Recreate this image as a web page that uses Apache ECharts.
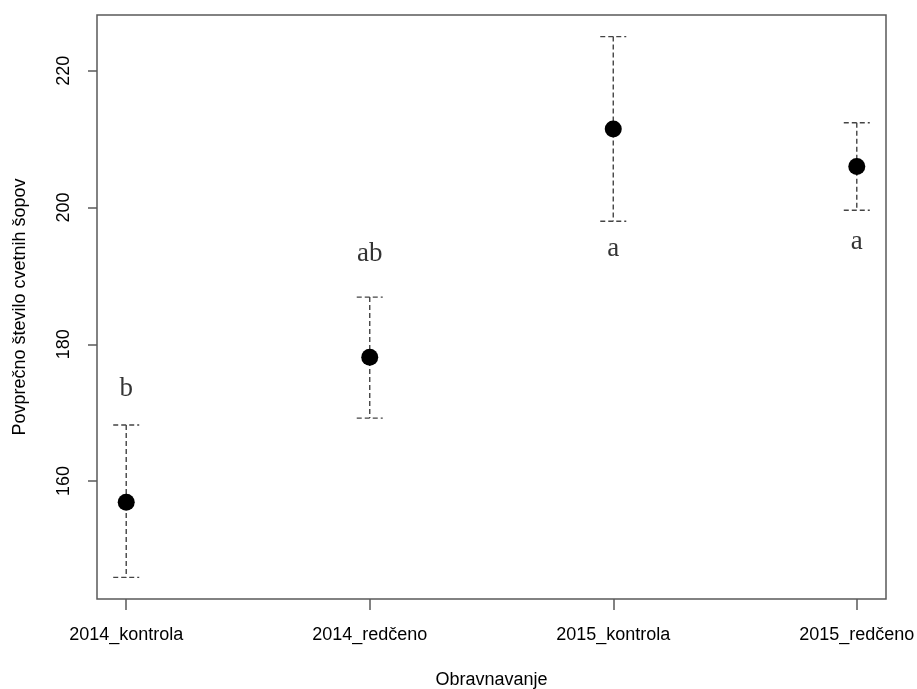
<!DOCTYPE html>
<html>
<head>
<meta charset="utf-8">
<script src="https://cdn.jsdelivr.net/npm/echarts@6/dist/echarts.min.js"></script>
<style>
html,body{margin:0;padding:0;background:#fff;}
#chart{width:917px;height:689px;}
</style>
</head>
<body>
<div id="chart"></div>
<script>
const categories = ['2014_kontrola', '2014_redčeno', '2015_kontrola', '2015_redčeno'];
const means = [156.9, 178.1, 211.5, 206.0];
const lower = [145.9, 169.2, 198.0, 199.6];
const upper = [168.2, 186.9, 225.0, 212.4];
const groupLetters = ['b', 'ab', 'a', 'a'];
const letterY = [173.45, 193.2, 194.0, 195.0];
const yTicks = [160, 180, 200, 220];
const xTicks = [1, 2, 3, 4];

const FONT = '"Liberation Sans", Arial, sans-serif';
const chart = echarts.init(document.getElementById('chart'), null, {renderer: 'canvas'});

const pointData = means.map((m, i) => [i + 1, m]);
const barData = means.map((m, i) => [i + 1, lower[i], upper[i]]);
const letterData = letterY.map((v, i) => [i + 1, v, groupLetters[i]]);

const option = {
  animation: false,
  backgroundColor: '#ffffff',
  grid: {
    left: 97, top: 15, width: 789, height: 584,
    outerBoundsMode: 'none',
    containLabel: false,
    show: true, borderColor: '#5a5a5a', borderWidth: 1.5, backgroundColor: 'transparent'
  },
  xAxis: {
    type: 'value',
    min: 0.88, max: 4.12,
    name: 'Obravnavanje',
    nameLocation: 'middle',
    nameGap: 72,
    nameTextStyle: {fontFamily: FONT, fontSize: 18, color: '#000', lineHeight: 18},
    axisLine: {show: false},
    splitLine: {show: false},
    axisTick: {show: true, customValues: xTicks, length: 11, lineStyle: {color: '#5a5a5a', width: 1.5}},
    axisLabel: {
      show: true, customValues: xTicks, margin: 27,
      fontFamily: FONT, fontSize: 18, color: '#000', lineHeight: 18,
      formatter: v => categories[Math.round(v) - 1] || ''
    }
  },
  yAxis: {
    type: 'value',
    min: 142.74, max: 228.16,
    name: 'Povprečno število cvetnih šopov',
    nameLocation: 'middle',
    nameGap: 68,
    nameRotate: 90,
    nameTextStyle: {fontFamily: FONT, fontSize: 18, color: '#000', lineHeight: 18},
    axisLine: {show: false},
    splitLine: {show: false},
    axisTick: {show: true, customValues: yTicks, length: 9, lineStyle: {color: '#5a5a5a', width: 1.5}},
    axisLabel: {
      show: true, customValues: yTicks, rotate: 90, margin: 24,
      fontFamily: FONT, fontSize: 18, color: '#000', lineHeight: 18
    }
  },
  series: [
    {
      type: 'custom',
      data: barData,
      z: 2,
      renderItem: function (params, api) {
        const x = api.value(0);
        const top = api.coord([x, api.value(2)]);
        const bot = api.coord([x, api.value(1)]);
        const half = 13;
        const st = {stroke: '#444444', lineWidth: 1.4, lineDash: [5, 3]};
        return {
          type: 'group',
          children: [
            {type: 'line', shape: {x1: top[0], y1: top[1], x2: bot[0], y2: bot[1]}, style: st},
            {type: 'line', shape: {x1: top[0] - half, y1: top[1], x2: top[0] + half, y2: top[1]}, style: st},
            {type: 'line', shape: {x1: bot[0] - half, y1: bot[1], x2: bot[0] + half, y2: bot[1]}, style: st}
          ]
        };
      }
    },
    {
      type: 'scatter',
      data: pointData,
      z: 3,
      symbol: 'circle',
      symbolSize: 17,
      itemStyle: {color: '#000', opacity: 1}
    },
    {
      type: 'scatter',
      data: letterData,
      z: 4,
      symbolSize: 0,
      label: {
        show: true,
        position: 'inside',
        formatter: p => p.data[2],
        fontFamily: '"Liberation Serif", "Times New Roman", serif',
        fontSize: 27,
        color: '#000'
      }
    }
  ]
};
chart.setOption(option);
</script>
</body>
</html>
